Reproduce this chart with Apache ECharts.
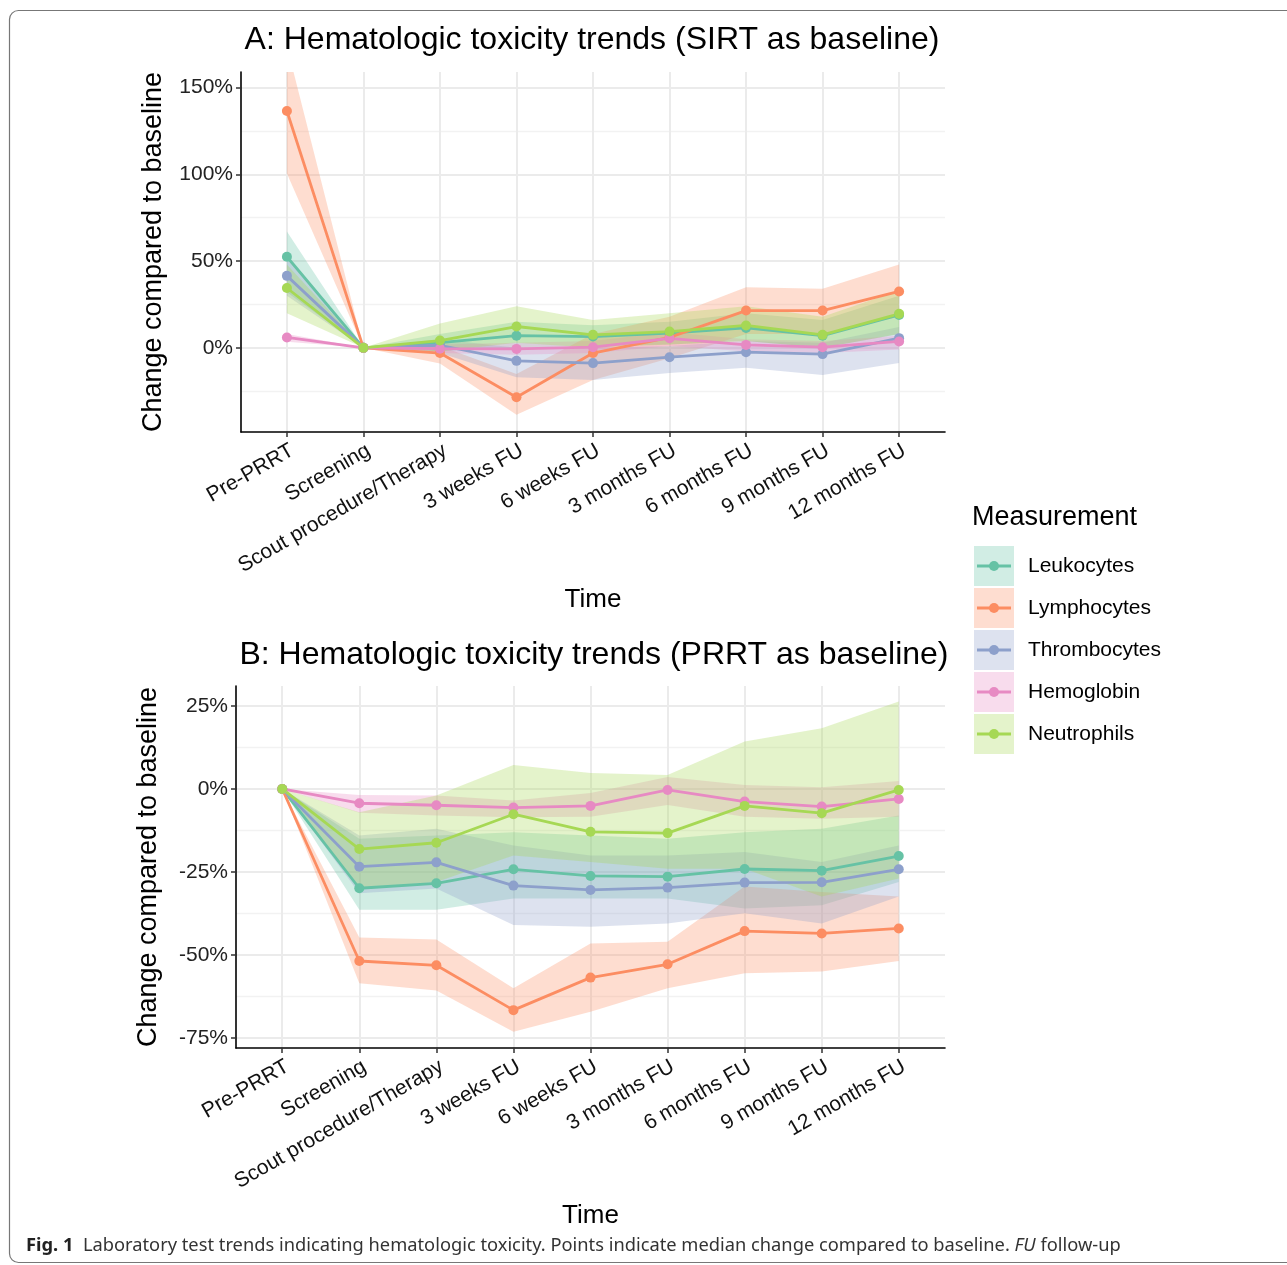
<!DOCTYPE html>
<html><head><meta charset="utf-8">
<script src="https://cdn.jsdelivr.net/npm/echarts@6/dist/echarts.min.js"></script>
<style>html,body{margin:0;padding:0;background:#fff}#c{width:1287px;height:1265px}</style>
</head><body><div id="c"></div>
<script>
// ---------- DATA ----------
const categories = ['Pre-PRRT','Screening','Scout procedure/Therapy','3 weeks FU','6 weeks FU','3 months FU','6 months FU','9 months FU','12 months FU'];
const measurements = ['Leukocytes','Lymphocytes','Thrombocytes','Hemoglobin','Neutrophils'];
const palette = ['#66C2A5','#FC8D62','#8DA0CB','#E78AC3','#A6D854'];

// Panel A (SIRT as baseline): median, lower, upper (%)
const leukA    = [52.5, 0, 3, 7, 6.5, 8.5, 11.5, 7, 19];
const leukA_lo = [32, 0, -2, 0, 1, 2, 4, 0, 8];
const leukA_hi = [67, 0, 8, 15, 13, 15, 20, 16, 30];
const lymphA    = [136.5, 0, -3, -28.5, -3, 6, 21.5, 21.5, 32.5];
const lymphA_lo = [100.5, 0, -9, -38.5, -18.5, -6, 8, 8, 18];
const lymphA_hi = [174, 0, 1, -15, 8, 18, 35, 34, 48];
const thrA    = [41.5, 0, 1.5, -7.5, -8.8, -5.4, -2.5, -3.6, 5.6];
const thrA_lo = [30, 0, -3, -17, -18.5, -14.5, -11.5, -15.6, -8.8];
const thrA_hi = [52, 0, 5, 0, 0, 1, 4, 3, 12];
const hemoA    = [6, 0, -0.5, -0.6, 0.4, 5.5, 1.7, 0.4, 3.7];
const hemoA_lo = [3.5, 0, -3, -4, -3, 1, -2, -3, -1];
const hemoA_hi = [8, 0, 2, 3, 4, 9, 5, 4, 7];
const neutA    = [34.5, 0, 4.2, 12.3, 7.5, 9.4, 12.9, 7.5, 19.6];
const neutA_lo = [20, 0, -2, 3, 0, 2, 4, 0, 8];
const neutA_hi = [48, 0, 14, 24, 16, 20, 24, 18, 33];

// Panel B (PRRT as baseline)
const leukB    = [0, -29.9, -28.4, -24.2, -26.2, -26.4, -24.1, -24.6, -20.2];
const leukB_lo = [0, -36.4, -36.4, -33, -33, -33, -36, -35, -28];
const leukB_hi = [0, -15, -14, -13, -14, -15, -13, -12, -8];
const lymphB    = [0, -51.8, -53.1, -66.6, -56.8, -52.8, -42.8, -43.5, -42];
const lymphB_lo = [0, -58.5, -60.7, -73.1, -67.1, -60, -55.5, -55, -51.8];
const lymphB_hi = [0, -44.7, -45.3, -60, -46.5, -46, -29.4, -31, -32.4];
const thrB    = [0, -23.4, -22.1, -29.1, -30.4, -29.7, -28.2, -28.1, -24.2];
const thrB_lo = [0, -31.4, -30, -41, -41.5, -40.5, -37.4, -40.5, -32.4];
const thrB_hi = [0, -14, -12, -17, -20, -20, -19, -22, -17];
const hemoB    = [0, -4.3, -4.9, -5.6, -5.1, -0.3, -3.8, -5.3, -3];
const hemoB_lo = [0, -7.2, -8, -8.5, -8.4, -4.8, -8.4, -9, -8.4];
const hemoB_hi = [0, -1.8, -2, -3.5, -1.2, 3.6, 1.2, 0.5, 2.4];
const neutB    = [0, -18.1, -16.2, -7.6, -12.9, -13.3, -5.1, -7.3, -0.3];
const neutB_lo = [0, -30, -28, -20, -22, -24, -24, -32.4, -27];
const neutB_hi = [0, -7, -2, 7.2, 4.8, 4.2, 14.3, 18.3, 26.3];

// Tick labels
const yTicksA = [0, 50, 100, 150];
const yMinorA = [-25, 25, 75, 125];
const yTicksB = [-75, -50, -25, 0, 25];
const yMinorB = [-62.5, -37.5, -12.5, 12.5];
const xTicks = [0, 1, 2, 3, 4, 5, 6, 7, 8];

const panelA = [[leukA, leukA_lo, leukA_hi],[lymphA, lymphA_lo, lymphA_hi],[thrA, thrA_lo, thrA_hi],[hemoA, hemoA_lo, hemoA_hi],[neutA, neutA_lo, neutA_hi]];
const panelB = [[leukB, leukB_lo, leukB_hi],[lymphB, lymphB_lo, lymphB_hi],[thrB, thrB_lo, thrB_hi],[hemoB, hemoB_lo, hemoB_hi],[neutB, neutB_lo, neutB_hi]];

// ---------- CHART ----------
const FONT = "'Liberation Sans', Arial, sans-serif";
const chart = echarts.init(document.getElementById('c'), null, {renderer: 'canvas'});

function xAxisDef(gi) {
  return {
    type: 'value', gridIndex: gi, min: -0.6, max: 8.6,
    name: 'Time', nameLocation: 'middle', nameGap: 155,
    nameTextStyle: {fontFamily: FONT, fontSize: 26, color: '#000'},
    axisLine: {show: true, onZero: false, lineStyle: {color: '#000', width: 1.6}},
    axisTick: {show: true, length: 5, lineStyle: {color: '#333', width: 1.5}, customValues: xTicks},
    axisLabel: {customValues: xTicks, rotate: 30, fontFamily: FONT, fontSize: 21, color: '#111', margin: 8,
      verticalAlign: 'top', align: 'right',
      formatter: v => categories[Math.round(v)]},
    splitLine: {show: true, lineStyle: {color: '#EBEBEB', width: 2}}
  };
}
function yAxisMain(gi, min, max, ticks, gap) {
  return {
    type: 'value', gridIndex: gi, min: min, max: max,
    name: 'Change compared to baseline', nameLocation: 'middle', nameGap: gap, nameRotate: 90,
    nameTextStyle: {fontFamily: FONT, fontSize: 27, color: '#000'},
    axisLine: {show: true, onZero: false, lineStyle: {color: '#000', width: 1.6}},
    axisTick: {show: true, length: 5, lineStyle: {color: '#333', width: 1.5}, customValues: ticks},
    axisLabel: {customValues: ticks, fontFamily: FONT, fontSize: 21, color: '#222', margin: 8,
      formatter: v => v + '%'},
    splitLine: {show: true, lineStyle: {color: '#EBEBEB', width: 2}}
  };
}
function yAxisMinor(gi, min, max, ticks) {
  return {
    type: 'value', gridIndex: gi, min: min, max: max,
    axisLine: {show: false}, axisLabel: {show: false},
    axisTick: {show: false, customValues: ticks},
    splitLine: {show: true, lineStyle: {color: '#F2F2F2', width: 1.3}}
  };
}

const series = [];
function addPanel(panel, gi) {
  // ribbons drawn as polygons through the axes' coordinate mapping
  panel.forEach((d, k) => {
    const lo = d[1], hi = d[2];
    series.push({
      type: 'custom', xAxisIndex: gi, yAxisIndex: gi * 2, silent: true, z: 1,
      data: lo.map((v, i) => [i, v, hi[i]]),
      encode: {x: 0, y: [1, 2]},
      renderItem: function (params, api) {
        if (params.dataIndex !== 0) return null;
        const pts = [];
        for (let i = 0; i < hi.length; i++) pts.push(api.coord([i, hi[i]]));
        for (let i = lo.length - 1; i >= 0; i--) pts.push(api.coord([i, lo[i]]));
        const cs = params.coordSys;
        return {
          type: 'polygon', shape: {points: pts},
          style: {fill: palette[k], opacity: 0.3},
          clipPath: {type: 'rect', shape: {x: cs.x, y: cs.y, width: cs.width, height: cs.height}}
        };
      }
    });
  });
  // lines + points
  panel.forEach((d, k) => {
    series.push({
      type: 'line', name: measurements[k], xAxisIndex: gi, yAxisIndex: gi * 2,
      data: d[0].map((v, i) => [i, v]), symbol: 'circle', symbolSize: 10, z: 3,
      lineStyle: {color: palette[k], width: 2.8}, itemStyle: {color: palette[k]},
      emphasis: {disabled: true}
    });
  });
}
addPanel(panelA, 0);
addPanel(panelB, 1);

// legend (graphic)
const legendEls = [{type: 'text', x: 972, y: 518, style: {text: 'Measurement', font: '27px ' + FONT, fill: '#000', verticalAlign: 'middle'}}];
measurements.forEach((m, k) => {
  const cy = 566 + k * 42;
  legendEls.push({type: 'rect', shape: {x: 974, y: cy - 20, width: 40, height: 40}, style: {fill: palette[k], opacity: 0.3}});
  legendEls.push({type: 'line', shape: {x1: 977, y1: cy, x2: 1011, y2: cy}, style: {stroke: palette[k], lineWidth: 2.8}});
  legendEls.push({type: 'circle', shape: {cx: 994, cy: cy, r: 5}, style: {fill: palette[k]}});
  legendEls.push({type: 'text', x: 1028, y: cy, style: {text: m, font: '21px ' + FONT, fill: '#000', verticalAlign: 'middle', align: 'left'}});
});

const CAPFONT = "'Noto Sans', sans-serif";
const option = {
  animation: false,
  backgroundColor: '#fff',
  textStyle: {fontFamily: FONT},
  grid: [
    {left: 241, top: 72, width: 704, height: 360},
    {left: 236, top: 686, width: 709, height: 362}
  ],
  xAxis: [xAxisDef(0), xAxisDef(1)],
  yAxis: [
    yAxisMain(0, -48.5, 159, yTicksA, 74), yAxisMinor(0, -48.5, 159, yMinorA),
    yAxisMain(1, -78, 31, yTicksB, 74), yAxisMinor(1, -78, 31, yMinorB)
  ],
  series: series,
  graphic: [
    {type: 'rect', shape: {x: 9.5, y: 10.5, width: 1320, height: 1252, r: 9}, style: {fill: 'none', stroke: '#777', lineWidth: 1.2}, silent: true},
    {type: 'text', x: 592, y: 40, style: {text: 'A: Hematologic toxicity trends (SIRT as baseline)', font: '32px ' + FONT, fill: '#000', align: 'center', verticalAlign: 'middle'}},
    {type: 'text', x: 594, y: 655, style: {text: 'B: Hematologic toxicity trends (PRRT as baseline)', font: '32px ' + FONT, fill: '#000', align: 'center', verticalAlign: 'middle'}},
    {type: 'text', x: 26, y: 1246, style: {
      text: '{b|Fig. 1}  Laboratory test trends indicating hematologic toxicity. Points indicate median change compared to baseline. {i|FU} follow-up',
      font: '18.3px ' + CAPFONT, fill: '#333', verticalAlign: 'middle',
      rich: {b: {fontWeight: 'bold', fontSize: 18.3, fontFamily: CAPFONT, fill: '#222'}, i: {fontStyle: 'italic', fontSize: 18.3, fontFamily: CAPFONT, fill: '#333'}}
    }}
  ].concat(legendEls)
};
chart.setOption(option);
</script>
</body></html>
